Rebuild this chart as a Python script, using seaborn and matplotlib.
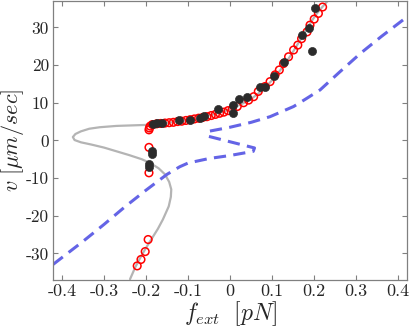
import numpy as np
import pandas as pd
import seaborn as sns
import matplotlib
matplotlib.use("Agg")
import matplotlib.pyplot as plt

# theory curve (gray): force vs velocity
theory_f = [0.232, 0.22, 0.205, 0.19, 0.175, 0.16, 0.145, 0.13, 0.115, 0.10, 0.085, 0.07,
            0.05, 0.03, 0.01, -0.01, -0.04, -0.07, -0.10, -0.13, -0.16, -0.19, -0.23, -0.27,
            -0.31, -0.335, -0.355, -0.368, -0.374, -0.37, -0.355, -0.33, -0.30, -0.27, -0.24,
            -0.21, -0.19, -0.17, -0.155, -0.145, -0.14, -0.141, -0.146, -0.16, -0.172, -0.186,
            -0.20, -0.213, -0.225, -0.238]
theory_v = [37.0, 35.5, 33.5, 31.0, 28.2, 25.4, 22.7, 20.2, 18.0, 16.0, 14.2, 12.7,
            11.0, 9.8, 8.8, 7.9, 6.9, 6.0, 5.4, 4.9, 4.5, 4.15, 4.0, 3.85,
            3.5, 3.1, 2.4, 1.7, 0.9, 0.1, -0.5, -1.1, -1.9, -2.9, -3.9,
            -5.0, -6.0, -7.4, -9.0, -11.0, -13.0, -15.0, -17.5, -21.0, -23.5, -26.0,
            -28.5, -31.0, -33.5, -36.8]

# second model (blue dashed)
model_f = [-0.421, -0.35, -0.30, -0.25, -0.20, -0.15, -0.12, -0.10, -0.05, 0.0, 0.055,
           0.058, -0.052, -0.052, 0.0, 0.05, 0.095, 0.151, 0.18, 0.214, 0.26, 0.31, 0.36,
           0.421]
model_v = [-32.9, -26.8, -22.3, -17.6, -13.2, -9.0, -7.0, -6.0, -4.8, -4.0, -2.9,
           -2.0, 1.1, 2.4, 3.5, 4.8, 6.3, 9.0, 11.0, 13.4, 18.1, 23.1, 27.6,
           32.8]

# simulation points (red open circles)
sim_f = [-0.193, -0.192, -0.19, -0.185, -0.175, -0.165, -0.155, -0.145, -0.135, -0.125,
         -0.115, -0.105, -0.095, -0.085, -0.075, -0.065, -0.055, -0.045, -0.035, -0.025,
         -0.015, -0.005, 0.005, 0.017, 0.032, 0.044, 0.056, 0.067, 0.083, 0.095, 0.107,
         0.117, 0.127, 0.139, 0.151, 0.161, 0.17, 0.183, 0.19, 0.20, 0.21, 0.22,
         -0.193, -0.193, -0.195, -0.202, -0.212, -0.221]
sim_v = [2.8, 3.3, 3.8, 4.2, 4.4, 4.5, 4.6, 4.7, 4.8, 5.0,
         5.1, 5.3, 5.5, 5.7, 5.9, 6.1, 6.3, 6.6, 6.9, 7.2,
         7.5, 7.9, 8.3, 9.0, 10.0, 10.7, 11.6, 13.0, 14.3, 15.6, 17.4,
         18.7, 20.4, 22.2, 24.0, 25.3, 27.0, 28.8, 30.6, 32.2, 33.7, 35.4,
         -1.85, -8.6, -26.3, -29.5, -31.6, -33.3]

# experiment points (black dots)
exp_f = [-0.183, -0.175, -0.163, -0.121, -0.095, -0.071, -0.063, -0.03, 0.006, 0.006,
         0.021, 0.04, 0.071, 0.083, 0.105, 0.129, 0.171, 0.188, 0.202, 0.194,
         -0.185, -0.185, -0.194, -0.194]
exp_v = [4.4, 4.6, 4.6, 5.3, 5.3, 5.9, 6.5, 8.4, 9.4, 7.4,
         10.9, 11.5, 14.1, 14.1, 17.2, 20.7, 27.9, 29.7, 35.2, 23.8,
         -2.9, -3.6, -6.3, -7.0]

x_ticks = [-0.4, -0.3, -0.2, -0.1, 0, 0.1, 0.2, 0.3, 0.4]
x_labels = ["-0.4", "-0.3", "-0.2", "-0.1", "0", "0.1", "0.2", "0.3", "0.4"]
y_ticks = [-30, -20, -10, 0, 10, 20, 30]
y_labels = ["-30", "-20", "-10", "0", "10", "20", "30"]

sns.set_style("ticks")
plt.rcParams["font.family"] = "serif"
plt.rcParams["font.serif"] = ["cmr10", "DejaVu Serif"]
plt.rcParams["mathtext.fontset"] = "cm"
plt.rcParams["axes.unicode_minus"] = False

fig, ax = plt.subplots(figsize=(4.15, 3.3), dpi=100)
fig.subplots_adjust(left=0.128, right=0.981, top=0.997, bottom=0.152)

sns.lineplot(x=theory_f, y=theory_v, sort=False, estimator=None, color="#b4b4b4",
             linewidth=1.6, ax=ax)
sns.lineplot(x=model_f, y=model_v, sort=False, estimator=None, color="#6464e6",
             linewidth=2.2, linestyle=(0, (4.0, 2.4)), ax=ax)
sns.scatterplot(x=sim_f, y=sim_v, facecolor="none", edgecolor="red", linewidth=1.1,
                s=30, ax=ax, zorder=3)
sns.scatterplot(x=exp_f, y=exp_v, color="#2b2b2b", edgecolor="#2b2b2b", s=34,
                ax=ax, zorder=4)

ax.set_xlim(-0.421, 0.421)
ax.set_ylim(-37, 37)
ax.set_xticks(x_ticks)
ax.set_xticklabels(x_labels, fontsize=13)
ax.set_yticks(y_ticks)
ax.set_yticklabels(y_labels, fontsize=12.5)
ax.tick_params(direction="in", length=3.5, width=0.8, color="#808080", pad=3,
               top=True, right=True)
for sp in ax.spines.values():
    sp.set_visible(True)
    sp.set_color("#808080")
    sp.set_linewidth(0.9)

ax.set_xlabel(r"$f_{ext}\ \ [pN]$", fontsize=17, labelpad=0)
ax.set_ylabel(r"$v\ [\mu m/sec]$", fontsize=16, labelpad=0)

fig.savefig("out.png", dpi=100)
